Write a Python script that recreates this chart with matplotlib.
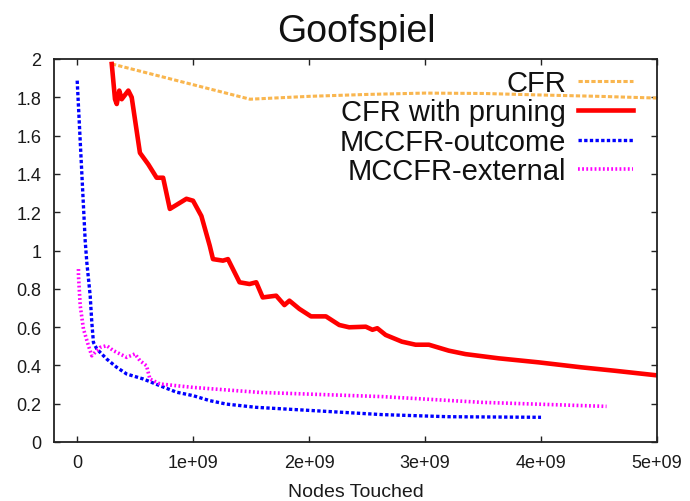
import matplotlib
matplotlib.use("Agg")
import matplotlib.pyplot as plt

plt.rcParams['font.family'] = ['Liberation Sans', 'DejaVu Sans']

# ---- data (x in nodes touched, y = exploitability) ----
cfr_x = [0.30e9, 1.49e9, 2.0e9, 2.5e9, 3.0e9, 3.5e9, 4.0e9, 4.5e9, 5.0e9]
cfr_y = [1.974, 1.79, 1.805, 1.815, 1.822, 1.82, 1.812, 1.805, 1.796]

prune_x = [0.298e9, 0.326e9, 0.341e9, 0.363e9, 0.384e9, 0.441e9, 0.47e9, 0.541e9,
           0.613e9, 0.685e9, 0.741e9, 0.799e9, 0.942e9, 0.999e9, 1.071e9, 1.143e9,
           1.171e9, 1.257e9, 1.30e9, 1.40e9, 1.486e9, 1.544e9, 1.60e9, 1.716e9,
           1.787e9, 1.83e9, 1.916e9, 2.016e9, 2.145e9, 2.26e9, 2.345e9, 2.489e9,
           2.546e9, 2.588e9, 2.66e9, 2.80e9, 2.918e9, 3.033e9, 3.204e9, 3.348e9,
           3.634e9, 3.978e9, 4.347e9, 4.637e9, 5.0e9]
prune_y = [1.974, 1.79, 1.765, 1.835, 1.79, 1.835, 1.80, 1.51,
           1.45, 1.38, 1.38, 1.217, 1.27, 1.26, 1.18, 1.025,
           0.955, 0.947, 0.955, 0.834, 0.825, 0.834, 0.755, 0.764,
           0.715, 0.738, 0.695, 0.656, 0.656, 0.611, 0.599, 0.602,
           0.586, 0.594, 0.559, 0.524, 0.508, 0.508, 0.477, 0.459,
           0.437, 0.416, 0.39, 0.372, 0.348]

outcome_x = [0.0, 0.069e9, 0.083e9, 0.112e9, 0.126e9, 0.14e9, 0.169e9, 0.255e9,
             0.341e9, 0.427e9, 0.57e9, 0.713e9, 0.857e9, 1.0e9, 1.143e9, 1.286e9,
             1.544e9, 2.06e9, 2.63e9, 3.2e9, 4.0e9]
outcome_y = [1.887, 1.05, 0.938, 0.764, 0.625, 0.52, 0.486, 0.433,
             0.39, 0.355, 0.329, 0.294, 0.26, 0.242, 0.216, 0.198,
             0.181, 0.163, 0.143, 0.132, 0.129]

external_x = [0.011e9, 0.011e9, 0.026e9, 0.054e9, 0.097e9, 0.126e9, 0.155e9, 0.198e9,
              0.255e9, 0.312e9, 0.369e9, 0.427e9, 0.498e9, 0.541e9, 0.598e9, 0.627e9,
              0.713e9, 1.0e9, 1.572e9, 2.63e9, 3.49e9, 4.565e9]
external_y = [0.903, 0.87, 0.712, 0.59, 0.503, 0.45, 0.468, 0.494,
              0.503, 0.477, 0.46, 0.442, 0.46, 0.425, 0.398, 0.329,
              0.303, 0.285, 0.259, 0.237, 0.207, 0.186]

labels = ["CFR", "CFR with pruning", "MCCFR-outcome", "MCCFR-external"]

x_ticks = [0, 1e9, 2e9, 3e9, 4e9, 5e9]
x_tick_labels = ["0", "1e+09", "2e+09", "3e+09", "4e+09", "5e+09"]
y_ticks = [0, 0.2, 0.4, 0.6, 0.8, 1.0, 1.2, 1.4, 1.6, 1.8, 2.0]
y_tick_labels = ["0", "0.2", "0.4", "0.6", "0.8", "1", "1.2", "1.4", "1.6", "1.8", "2"]

title = "Goofspiel"
xlabel = "Nodes Touched"

# ---- figure ----
fig = plt.figure(figsize=(6.9, 5.02), dpi=100)
ax = fig.add_axes([54 / 690, 1 - 443 / 502, (657 - 54) / 690, (443 - 60) / 502])

l1, = ax.plot(cfr_x, cfr_y, color="#f9b64f", lw=2.2, dashes=(1.4, 0.7),
              dash_capstyle="butt", label=labels[0])
l2, = ax.plot(prune_x, prune_y, color="#ff0000", lw=3.3, label=labels[1],
              solid_joinstyle="round")
l3, = ax.plot(outcome_x, outcome_y, color="#0000ff", lw=2.4, dashes=(1.0, 0.7),
              dash_capstyle="butt", label=labels[2])
l4, = ax.plot(external_x, external_y, color="#ff00ff", lw=2.6, dashes=(0.5, 0.65),
              dash_capstyle="butt", label=labels[3])

ax.set_xlim(-2e8, 5e9)
ax.set_ylim(0, 2)
ax.set_xticks(x_ticks)
ax.set_xticklabels(x_tick_labels)
ax.set_yticks(y_ticks)
ax.set_yticklabels(y_tick_labels)

ax.tick_params(direction="in", length=4, width=1, top=True, right=True,
               labelsize=13, labelcolor="#1a1a1a", color="#222222")
ax.tick_params(axis="x", pad=9)
ax.tick_params(axis="y", pad=9)
for s in ax.spines.values():
    s.set_linewidth(1.3)
    s.set_color("#222222")

fig.text(356 / 690, 1 - 42 / 502, title, ha="center", va="baseline",
         fontsize=27, color="#111111")
fig.text(356 / 690, 1 - 497 / 502, xlabel, ha="center", va="baseline",
         fontsize=14, color="#1a1a1a")

leg = ax.legend(handles=[l1, l2, l3, l4], loc="upper right",
                bbox_to_anchor=((633 - 54) / 603, (443 - 70) / 383),
                frameon=False, markerfirst=False, fontsize=21,
                borderpad=0, borderaxespad=0, handlelength=1.9,
                handletextpad=0.4, labelspacing=0.05)
for t in leg.get_texts():
    t.set_color("#111111")

fig.savefig("out.png", dpi=100)
